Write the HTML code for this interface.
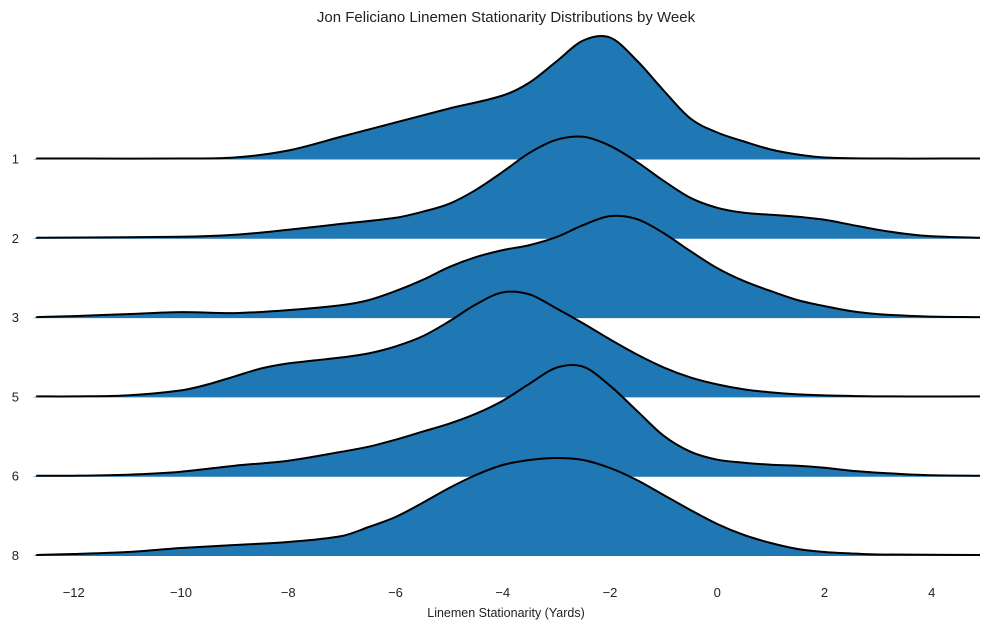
<!DOCTYPE html>
<html><head><meta charset="utf-8"><style>
html,body{margin:0;padding:0;background:#fff;}
svg{display:block;font-family:"Liberation Sans",Arial,sans-serif;}
</style></head><body>
<svg id="chart" width="989" height="629" viewBox="0 0 989 629">
<text x="506" y="22" text-anchor="middle" font-size="15" fill="#222">Jon Feliciano Linemen Stationarity Distributions by Week</text>
<text x="506" y="617" text-anchor="middle" font-size="12.5" fill="#222">Linemen Stationarity (Yards)</text>
<g id="ridges"></g>
<g id="xticks"></g>
<g id="yticks"></g>
</svg>
<script>
const weeks = ["1","2","3","5","6","8"];
const xTickValues = [-12,-10,-8,-6,-4,-2,0,2,4];
const w1x = [-12.7,-10,-9,-8,-7,-6,-5,-4,-3.5,-3,-2.5,-2,-1.5,-1,-0.5,0,0.5,1,1.5,2,3,4.9];
const w1d = [0,0,1,8,22,36,50,63,76,97,118,121,98,68,40,26,17,9,4,1,0,0];
const w2x = [-12.7,-10,-9,-8,-7,-6,-5.5,-5,-4.5,-4,-3.5,-3,-2.5,-2,-1.5,-1,-0.5,0,0.5,1,1.5,2,2.5,3,3.5,4,4.9];
const w2d = [0,1,3,8,14,20,26,34,48,66,85,98,101,92,76,57,40,30,25,23,21,18,13,8,4,1.5,0];
const w3x = [-12.7,-12,-11,-10,-9,-8,-7,-6.5,-6,-5.5,-5,-4.5,-4,-3.5,-3,-2.5,-2,-1.5,-1,-0.5,0,0.5,1,1.5,2,2.5,3,3.5,4,4.9];
const w3d = [0,1,3,5,4,7,12,17,26,37,50,60,67,72,80,92,101,98,84,66,49,36,26,17,11,6,3,1.5,0.5,0];
const w5x = [-12.7,-12,-11,-10,-9.5,-9,-8.5,-8,-7.5,-7,-6.5,-6,-5.5,-5,-4.5,-4,-3.5,-3,-2.5,-2,-1.5,-1,-0.5,0,0.5,1,1.5,2,3,4.9];
const w5d = [0,0,1,6,12,20,28,33,36,39,43,50,60,75,92,104,102,88,73,57,42,29,19,12,7,4,2,1,0,0];
const w6x = [-12.7,-12,-11,-10,-9,-8,-7,-6.5,-6,-5.5,-5,-4.5,-4,-3.5,-3,-2.5,-2,-1.5,-1,-0.5,0,0.5,1,1.5,2,2.5,3,3.5,4,4.9];
const w6d = [0,0,1,4,10,15,24,29,36,44,52,62,75,92,108,109,90,65,40,24,16,13,11,10,8,5,3,1.5,0.5,0];
const w8x = [-12.7,-12,-11,-10,-9,-8,-7,-6.5,-6,-5.5,-5,-4.5,-4,-3.5,-3,-2.5,-2,-1.5,-1,-0.5,0,0.5,1,1.5,2,2.5,3,4.9];
const w8d = [0,1,3,7,10,13,19,28,38,52,67,80,90,95,97,95,87,75,60,45,31,20,12,6,3,1.5,0.5,0];
const seriesX = [w1x,w2x,w3x,w5x,w6x,w8x];
const seriesD = [w1d,w2d,w3d,w5d,w6d,w8d];

const ns="http://www.w3.org/2000/svg";
const xMin=-12.76, xMax=4.9, pxL=33, pxR=980;
function xs(v){return pxL+(v-xMin)/(xMax-xMin)*(pxR-pxL);}
const base0=158.5, step=79.3;
function baseY(i){return base0+i*step;}
function hs(d){return d;}
function smooth(pts){
  let s="M"+pts[0][0]+","+pts[0][1];
  for(let i=0;i<pts.length-1;i++){
    const p0=pts[Math.max(0,i-1)],p1=pts[i],p2=pts[i+1],p3=pts[Math.min(pts.length-1,i+2)];
    const dx=p2[0]-p1[0];
    const m1=(p2[1]-p0[1])/(p2[0]-p0[0]||1);
    const m2=(p3[1]-p1[1])/(p3[0]-p1[0]||1);
    const c1=[p1[0]+dx/3,p1[1]+m1*dx/3];
    const c2=[p2[0]-dx/3,p2[1]-m2*dx/3];
    s+=" C"+c1[0]+","+c1[1]+" "+c2[0]+","+c2[1]+" "+p2[0]+","+p2[1];
  }
  return s;
}
const rg=document.getElementById('ridges');
weeks.forEach((wk,i)=>{
  const b=baseY(i);
  const pts=seriesX[i].map((x,j)=>[xs(x),b-hs(seriesD[i][j])]);
  const d=smooth(pts);
  const fill=document.createElementNS(ns,'path');
  fill.setAttribute('d',d+" L"+pxR+","+(b+1)+" L"+pxL+","+(b+1)+" Z");
  fill.setAttribute('fill','#1f77b4');
  
  
  rg.appendChild(fill);
  const line=document.createElementNS(ns,'path');
  line.setAttribute('d',d);
  line.setAttribute('fill','none');
  line.setAttribute('stroke','#000');
  line.setAttribute('stroke-width','2');
  
  
  rg.appendChild(line);
  const t=document.createElementNS(ns,'text');
  t.setAttribute('x','19');t.setAttribute('y',b+5);
  t.setAttribute('font-size','13');t.setAttribute('text-anchor','end');t.setAttribute('fill','#222');
  
  
  t.textContent=wk;
  document.getElementById('yticks').appendChild(t);
});
xTickValues.forEach(v=>{
  const t=document.createElementNS(ns,'text');
  t.setAttribute('x',xs(v));t.setAttribute('y','597');
  t.setAttribute('font-size','13');t.setAttribute('text-anchor','middle');t.setAttribute('fill','#222');
  
  
  t.textContent=(v<0?"\u2212"+(-v):String(v));
  document.getElementById('xticks').appendChild(t);
});
</script>
</body></html>
